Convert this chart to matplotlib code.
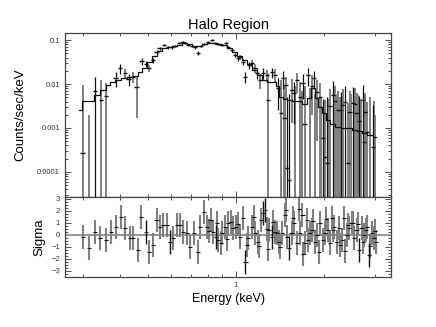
import numpy as np
import matplotlib
matplotlib.use("Agg")
import matplotlib.pyplot as plt
from matplotlib.ticker import FuncFormatter, NullFormatter, LogLocator, MultipleLocator

plt.rcParams['font.family'] = ['Liberation Sans', 'DejaVu Sans']

# spectrum: energy (keV), counts/sec/keV, 1-sigma error, instrument (0 dark, 1 grey)
spec_energy = [0.299, 0.314, 0.329, 0.345, 0.359, 0.388, 0.401, 0.417, 0.430, 0.444,
               0.458, 0.476, 0.492, 0.504, 0.520, 0.536, 0.549, 0.567, 0.585, 0.604,
               0.618, 0.638, 0.658, 0.669, 0.685, 0.707, 0.724, 0.741, 0.759, 0.777,
               0.802, 0.828, 0.847, 0.867, 0.895, 0.924, 0.939, 0.969, 0.993, 1.016,
               1.032, 1.057, 1.074, 1.109, 1.135, 1.160, 1.180, 1.208, 1.237, 1.277,
               1.288, 1.328, 1.360, 1.393, 1.426, 1.449, 1.466, 1.483, 1.496, 1.520,
               1.555, 1.580, 1.618, 1.656, 1.695, 1.722, 1.765, 1.820, 1.849, 1.892,
               1.941, 1.986, 2.017, 2.050, 2.099, 2.148, 2.183, 2.234, 2.291, 2.323,
               2.361, 2.421, 2.455, 2.516, 2.557, 2.594, 2.637, 2.723, 2.742, 2.767,
               2.812, 2.944, 3.000]
spec_counts = [2.7e-4, 1.5e-5, 0.0069, 0.0043, 0.0053, 0.0137, 0.0231, 0.0174, 0.0130, 0.0144,
               0.0085, 0.0333, 0.0290, 0.0231, 0.0350, 0.0534, 0.0658, 0.0770, 0.0694, 0.0694,
               0.0731, 0.0855, 0.0901, 0.0855, 0.0770, 0.0731, 0.0694, 0.0507, 0.0731, 0.0811,
               0.0901, 0.1000, 0.0855, 0.0811, 0.0770, 0.0855, 0.0694, 0.0593, 0.0456, 0.0390,
               0.0411, 0.0316, 0.0144, 0.0270, 0.0300, 0.0231, 0.0178, 0.0123, 0.0178, 0.0160,
               0.0043, 0.0187, 0.0160, 0.0081, 0.0022, 0.0137, 0.0017, 0.0095, 1.2e-4, 6.6e-5,
               0.0073, 0.0062, 0.0123, 0.0051, 0.0105, 0.0012, 0.0160, 0.0090, 0.0137, 0.0065,
               0.0051, 5.9e-4, 2.2e-4, 1.6e-4, 0.0032, 0.0056, 0.0041, 0.0026, 0.0025, 0.0033,
               0.0039, 1.6e-4, 0.0023, 0.0037, 0.0035, 0.0022, 0.00145, 0.0043, 4.8e-4, 0.0023,
               8.1e-4, 3.7e-4, 1.0e-5]
spec_sigma = [0.0092, 0.0020, 0.0075, 0.0080, 0.0054, 0.0050, 0.0060, 0.0045, 0.0040, 0.0040,
              0.0068, 0.0060, 0.0050, 0.0045, 0.0050, 0.0050, 0.0050, 0.0050, 0.0050, 0.0050,
              0.0050, 0.0050, 0.0050, 0.0050, 0.0050, 0.0050, 0.0050, 0.0050, 0.0050, 0.0050,
              0.0050, 0.0055, 0.0050, 0.0050, 0.0050, 0.0050, 0.0050, 0.0050, 0.0050, 0.0050,
              0.0050, 0.0050, 0.0040, 0.0050, 0.0050, 0.0050, 0.0050, 0.0045, 0.0050, 0.0050,
              0.0135, 0.0050, 0.0055, 0.0055, 0.0100, 0.0060, 0.0080, 0.0050, 0.0050, 0.0060,
              0.0060, 0.0050, 0.0060, 0.0060, 0.0060, 0.0080, 0.0070, 0.0070, 0.0060, 0.0060,
              0.0055, 0.0040, 0.0040, 0.0050, 0.0045, 0.0060, 0.0050, 0.0045, 0.0040, 0.0045,
              0.0050, 0.0035, 0.0045, 0.0050, 0.0045, 0.0040, 0.0040, 0.0050, 0.0035, 0.0040,
              0.0030, 0.0030, 0.0020]
spec_inst = [1, 1, 0, 1, 1, 0, 0, 1, 0, 1,
             1, 0, 0, 1, 0, 0, 0, 0, 0, 0,
             0, 0, 0, 0, 0, 0, 0, 0, 0, 0,
             0, 0, 0, 0, 0, 0, 0, 0, 0, 0,
             1, 0, 0, 0, 1, 1, 0, 1, 0, 1,
             1, 0, 1, 0, 1, 0, 1, 1, 0, 0,
             1, 0, 1, 1, 0, 1, 0, 1, 0, 1,
             1, 0, 1, 0, 1, 0, 1, 1, 0, 1,
             0, 1, 1, 0, 1, 1, 0, 0, 1, 1,
             1, 0, 1]

# grey bins whose value falls below the plotted range (only the error bar shows)
low_energy = [1.47, 1.60, 1.68, 1.79, 1.87, 1.96, 2.08, 2.20, 2.27, 2.48, 2.62, 2.68, 2.88, 2.97]
low_counts = [2e-5, 1e-5, 2e-5, 1e-5, 2e-5, 1e-5, 2e-5, 1e-5, 2e-5, 1e-5, 2e-5, 1e-5, 2e-5, 1e-5]
low_sigma = [0.0060, 0.0090, 0.0070, 0.0080, 0.0060, 0.0050, 0.0045, 0.0060, 0.0050, 0.0060,
             0.0055, 0.0045, 0.0050, 0.0040]

# folded model
model_energy = [0.290, 0.306, 0.321, 0.334, 0.351, 0.365, 0.379, 0.394, 0.413, 0.434,
                0.455, 0.469, 0.488, 0.508, 0.528, 0.549, 0.571, 0.594, 0.618, 0.643,
                0.669, 0.696, 0.724, 0.753, 0.783, 0.815, 0.847, 0.881, 0.917, 0.954,
                0.993, 1.032, 1.074, 1.117, 1.162, 1.208, 1.257, 1.307, 1.360, 1.393,
                1.426, 1.472, 1.531, 1.592, 1.656, 1.722, 1.778, 1.835, 1.892, 1.941,
                2.001, 2.065, 2.148, 2.234, 2.361, 2.455, 2.557, 2.659, 2.767, 2.877, 3.013]
model_counts = [0.0026, 0.0041, 0.0041, 0.0056, 0.0073, 0.0095, 0.0111, 0.0123, 0.0137, 0.0144,
                0.0152, 0.0187, 0.0231, 0.0316, 0.0433, 0.0563, 0.0658, 0.0694, 0.0731, 0.0770,
                0.0855, 0.0811, 0.0731, 0.0731, 0.0811, 0.0855, 0.0855, 0.0811, 0.0770, 0.0658,
                0.0534, 0.0433, 0.0350, 0.0285, 0.0208, 0.0160, 0.0123, 0.0111, 0.0111, 0.0090,
                0.0051, 0.0046, 0.0043, 0.0041, 0.0041, 0.0035, 0.0048, 0.0081, 0.0048, 0.0030,
                0.0022, 0.0015, 0.0012, 0.00105, 0.0010, 0.0010, 0.0009, 0.00086, 0.00077, 0.00069, 0.00062]

# residuals in sigma
res_energy = [0.299, 0.315, 0.329, 0.342, 0.359, 0.373, 0.388, 0.403, 0.417, 0.434,
              0.445, 0.461, 0.475, 0.491, 0.504, 0.519, 0.535, 0.549, 0.564, 0.579,
              0.594, 0.610, 0.627, 0.643, 0.660, 0.678, 0.696, 0.718, 0.743, 0.753,
              0.777, 0.798, 0.819, 0.836, 0.855, 0.869, 0.887, 0.900, 0.917, 0.942,
              0.966, 0.979, 1.005, 1.032, 1.059, 1.079, 1.102, 1.132, 1.162, 1.192,
              1.218, 1.240, 1.257, 1.274, 1.300, 1.328, 1.357, 1.385, 1.407, 1.437,
              1.472, 1.499, 1.523, 1.551, 1.580, 1.622, 1.656, 1.691, 1.722, 1.754,
              1.792, 1.824, 1.865, 1.898, 1.941, 1.981, 2.017, 2.061, 2.099, 2.127,
              2.172, 2.213, 2.259, 2.301, 2.344, 2.394, 2.443, 2.489, 2.541, 2.589,
              2.643, 2.693, 2.748, 2.803, 2.863, 2.917, 2.969, 3.013,
              0.810, 0.862, 0.930, 1.020, 1.090, 1.150, 1.200, 1.290, 1.340, 1.420,
              1.490, 1.570, 1.640, 1.700, 1.770, 1.840, 1.920, 2.040, 2.150, 2.280,
              2.360, 2.420, 2.520, 2.620, 2.720, 2.780, 2.890, 2.990]
res_sigma = [-0.14, -1.06, 0.28, -0.28, -0.42, 0.28, 0.69, 1.53, 0.56, -0.28,
             -0.28, -1.25, 1.53, 0.28, -1.39, -0.83, 1.25, 0.69, 0.83, 0.83,
             -0.56, -0.28, 0.83, 0.83, 0.28, 0.14, -1.03, 0.14, -1.39, 0.69,
             1.94, 0.69, 1.25, 0.28, -0.14, -0.42, -0.69, 0.14, 0.69, 0.97,
             1.11, 0.56, 0.69, -0.14, 1.39, -2.22, -0.28, 0.69, 0.14, -0.56,
             1.25, 1.81, 2.08, 0.50, 0.42, -0.14, 0.28, 0.14, -0.56, 0.14,
             1.67, -0.14, -1.11, 0.14, 0.97, -0.69, 0.14, 1.67, -0.69, 1.25,
             0.14, 0.42, -0.56, 0.00, 0.97, -0.42, 0.14, 0.42, -0.69, 1.39,
             0.69, -0.56, 0.56, -0.42, 1.39, 0.00, 0.56, 0.97, -0.28, 0.42,
             -1.25, 0.56, 0.00, 0.69, -1.67, 0.14, -0.28, -0.56,
             0.30, 1.00, -0.30, 0.90, -0.80, 1.50, -0.90, -1.20, 1.10, -1.00,
             2.10, 1.40, 2.20, -1.60, -0.40, 1.20, -1.40, 1.30, 0.40, -0.80,
             -1.30, 0.80, 1.00, 0.90, -0.60, 0.40, -0.90, 0.30]
res_inst = [1, 1, 1, 1, 1, 1, 1, 1, 1, 1,
            1, 1, 1, 0, 1, 1, 1, 1, 1, 1,
            0, 1, 1, 1, 1, 1, 1, 1, 1, 1,
            1, 1, 1, 1, 0, 1, 1, 1, 1, 1,
            1, 1, 1, 1, 1, 0, 1, 1, 1, 1,
            1, 0, 0, 1, 1, 0, 1, 1, 1, 1,
            1, 1, 0, 1, 1, 1, 1, 1, 1, 1,
            1, 1, 1, 1, 1, 1, 1, 1, 1, 1,
            1, 1, 1, 1, 1, 1, 1, 1, 1, 1,
            0, 1, 1, 1, 0, 1, 1, 1,
            1, 1, 1, 1, 1, 1, 1, 1, 1, 1,
            1, 1, 1, 1, 1, 1, 1, 1, 1, 1,
            1, 1, 1, 1, 1, 1, 1, 1]

GREY = '#808080'
DARK = '#111111'

fig = plt.figure(figsize=(4.36, 3.27), dpi=100)
ax1 = fig.add_axes([0.149, 0.398, 0.748, 0.501])
ax2 = fig.add_axes([0.149, 0.153, 0.748, 0.245], sharex=ax1)

# grey-only bars first
le = np.array(low_energy)
lc = np.array(low_counts)
ls = np.array(low_sigma)
ax1.errorbar(le, lc, yerr=[lc - 1e-8, ls], fmt='none', ecolor=GREY, elinewidth=1.4, capsize=0)

e = np.array(spec_energy)
c = np.array(spec_counts)
s = np.array(spec_sigma)
inst = np.array(spec_inst)
lo = np.minimum(s, c - 1e-8)
for k, col in [(1, GREY), (0, DARK)]:
    m = inst == k
    ax1.errorbar(e[m], c[m], yerr=[lo[m], s[m]], fmt='none', ecolor=col,
                 elinewidth=1.4 if k else 0.9, capsize=0)
ax1.errorbar(e, c, xerr=e * 0.018, fmt='none', ecolor=DARK, elinewidth=1.0, capsize=0)
ax1.plot(model_energy, model_counts, drawstyle='steps-mid', color=DARK, lw=0.9)

ax1.set_xscale('log')
ax1.set_yscale('log')
ax1.set_xlim(0.26, 3.4)
ax1.set_ylim(2.7e-5, 0.145)
ax1.yaxis.set_major_locator(LogLocator(base=10, numticks=10))
ax1.yaxis.set_minor_locator(LogLocator(base=10, subs=np.arange(2, 10), numticks=10))
ax1.yaxis.set_major_formatter(FuncFormatter(lambda v, p: '%g' % v))
ax1.yaxis.set_minor_formatter(NullFormatter())
ax1.tick_params(axis='x', labelbottom=False)
ax1.set_ylabel('Counts/sec/keV', fontsize=9.5, labelpad=8)
ax1.set_title('Halo Region', fontsize=10.5, pad=3)

re = np.array(res_energy)
rs = np.array(res_sigma)
ri = np.array(res_inst)
ax2.axhline(0, color='#999999', lw=1.5)
for k, col in [(1, GREY), (0, DARK)]:
    m = ri == k
    ax2.errorbar(re[m], rs[m], yerr=1.0, fmt='none', ecolor=col,
                 elinewidth=1.5 if k else 1.0, capsize=0)
ax2.errorbar(re, rs, xerr=re * 0.016, fmt='none', ecolor=DARK, elinewidth=0.8, capsize=0)
ax2.set_ylim(-3.5, 3.17)
ax2.yaxis.set_major_locator(MultipleLocator(1))
ax2.yaxis.set_minor_locator(MultipleLocator(0.25))
ax2.xaxis.set_major_formatter(FuncFormatter(lambda v, p: '%g' % v))
ax2.xaxis.set_minor_formatter(NullFormatter())
ax2.set_ylabel('Sigma', fontsize=9.5, labelpad=4)
ax2.set_xlabel('Energy (keV)', fontsize=9, labelpad=3)

for ax in (ax1, ax2):
    ax.tick_params(which='both', direction='in', top=True, right=True,
                   labelsize=5.5, width=0.6, colors='#333333')
    ax.tick_params(which='major', length=4)
    ax.tick_params(which='minor', length=2)
    for sp in ax.spines.values():
        sp.set_color('#444444')
        sp.set_linewidth(0.9)

fig.savefig('out.png', dpi=100)
